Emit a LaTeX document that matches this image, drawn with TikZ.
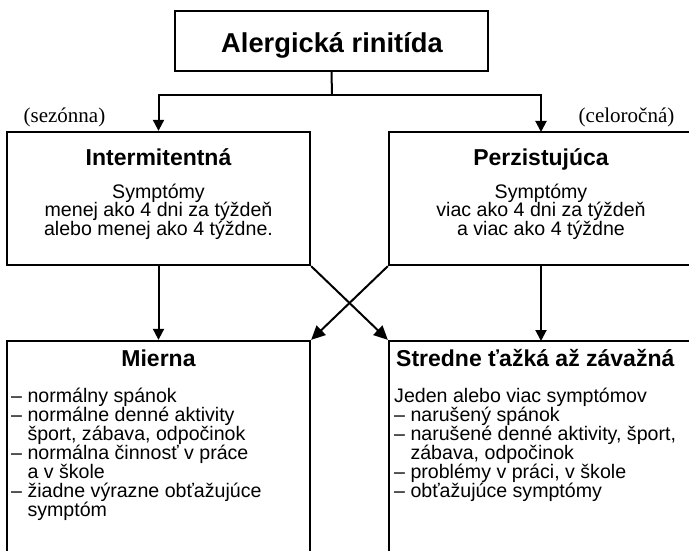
\documentclass[tikz,border=0pt]{standalone}
\usepackage{fontspec}
\setmainfont{Liberation Sans}
\newfontfamily\serifface{Liberation Serif}
\usetikzlibrary{arrows.meta}
\begin{document}
\begin{tikzpicture}[x=1pt,y=-1pt,
  box/.style={draw,line width=2.3pt,inner sep=0pt},
  conn/.style={line width=2pt},
  arr/.style={conn,-{Triangle[length=11pt,width=11pt]}},
  xarr/.style={conn,-{Triangle[length=14pt,width=13pt]}},
  title/.style={font=\fontsize{27.3}{30}\selectfont\bfseries,inner sep=0pt,anchor=base},
  head/.style={font=\fontsize{23}{26}\selectfont\bfseries,inner sep=0pt,anchor=base},
  body/.style={font=\fontsize{19.6}{22}\selectfont,inner sep=0pt,anchor=base},
  bodyw/.style={body,anchor=base west},
  lbl/.style={font=\serifface\fontsize{21}{24}\selectfont,inner sep=0pt,anchor=base},
]
\useasboundingbox (0,0) rectangle (689,551);
\clip (0,0) rectangle (689,551);
% boxes
\node[box,minimum width=313pt,minimum height=60pt] (top) at (331.5,41) {};
\node[box,minimum width=303pt,minimum height=133pt] (ml) at (158.5,198.5) {};
\node[box,minimum width=311pt,minimum height=133pt] (mr) at (544.5,198.5) {};
\node[box,minimum width=303pt,minimum height=219pt] (bl) at (158.5,450.5) {};
\node[box,minimum width=311pt,minimum height=219pt] (br) at (544.5,450.5) {};
% texts
\node[title] (tt) at (332,53) {Alergická rinitída};
\node[lbl] (sez) at (64.5,122.5) {(sezónna)};
\node[lbl] (cel) at (626.5,122.5) {(celoročná)};
\node[head] (hl) at (158.5,165) {Intermitentná};
\node[head] (hr) at (541,165) {Perzistujúca};
\foreach \t [count=\i] in {{Symptómy},{menej ako 4 dni za týždeň},{alebo menej ako 4 týždne.}}
  \node[body] (tl\i) at (158.5,{179.9+18.4*\i}) {\t};
\foreach \t [count=\i] in {{Symptómy},{viac ako 4 dni za týždeň},{a viac ako 4 týždne}}
  \node[body] (tr\i) at (541,{179.9+18.4*\i}) {\t};
\node[head] (hbl) at (158.5,366) {Mierna};
\node[head,anchor=base west] (hbr) at (396,366) {Stredne ťažká až závažná};
\foreach \t [count=\i] in {{– normálny spánok},{– normálne denné aktivity},{\hphantom{– }šport, zábava, odpočinok},{– normálna činnosť v práce},{\hphantom{– }a v škole},{– žiadne výrazne obťažujúce},{\hphantom{– }symptóm}}
  \node[bodyw] (ll\i) at (11,{383.5+19*\i}) {\t};
\foreach \t [count=\i] in {{Jeden alebo viac symptómov},{– narušený spánok},{– narušené denné aktivity, šport,},{\hphantom{– }zábava, odpočinok},{– problémy v práci, v škole},{– obťažujúce symptómy}}
  \node[bodyw] (lr\i) at (394,{383.5+19*\i}) {\t};
% connector points
\coordinate (j) at (332,95);
\coordinate (mrn) at (541,132);
\coordinate (mrs) at (541,265);
\coordinate (brn) at (541,341);
% connectors
\draw[conn] (top.south) -- (j);
\draw[arr] (j) -| (ml.north);
\draw[arr] (j) -| (mrn);
\draw[arr] (ml.south) -- (bl.north);
\draw[arr] (mrs) -- (brn);
\draw[xarr] (ml.south east) -- (br.north west);
\draw[xarr] (mr.south west) -- (bl.north east);
\end{tikzpicture}
\end{document}
